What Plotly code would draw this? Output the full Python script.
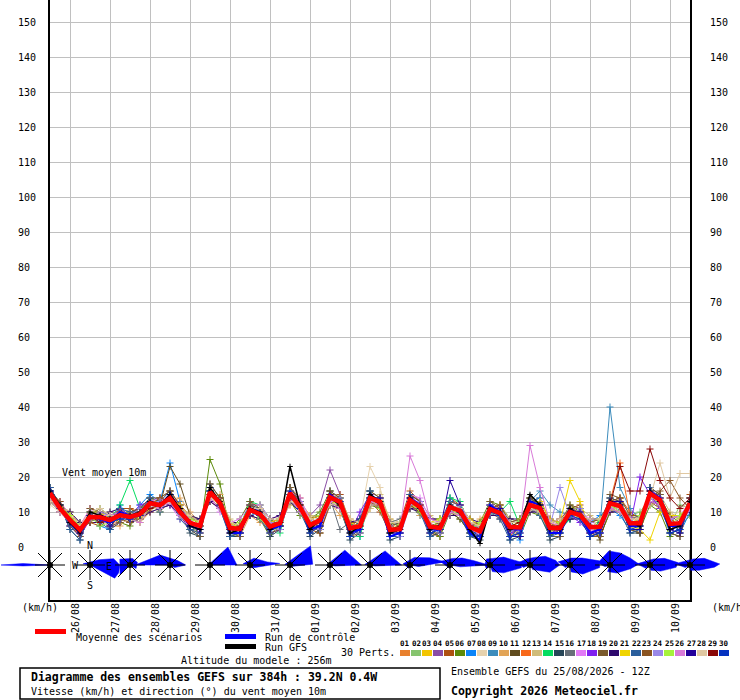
import numpy as np
import plotly.graph_objects as go

FIG_W, FIG_H = 740, 700

# ---------------- data ----------------
# 6-hourly steps, hours since run 25/08/2026 12Z
hours = list(range(0, 385, 6))
midnight_hours = [12 + 24 * k for k in range(16)]
date_labels = ["26/08", "27/08", "28/08", "29/08", "30/08", "31/08", "01/09", "02/09",
               "03/09", "04/09", "05/09", "06/09", "07/09", "08/09", "09/09", "10/09"]
speed_ticks = list(range(0, 151, 10))

mean_speed = [15.4, 11, 7.7, 4.9, 8.6, 8.5, 7.7, 9.1, 8.6, 9.4,
              12.5, 12, 14, 10, 6.9, 6, 15.7, 12.5, 5.4, 5.2,
              10.6, 9.4, 5.8, 6.8, 15.4, 11.4, 6.3, 7.7, 14.2, 12.9,
              5.4, 6, 14, 12.9, 4.9, 5.1, 13.4, 11.4, 5.8, 5.4,
              11.4, 10.3, 5.7, 4.5, 10.8, 9.7, 5.7, 5.6, 12, 11.1,
              5.4, 5.4, 10, 9.1, 5.7, 5.8, 12.5, 11.7, 6.8, 6.8,
              15.3, 13.4, 6.6, 6.8, 12.5]

control_run = [16, 11, 7, 4, 9, 8, 7, 10, 9, 9, 13, 12, 15, 10, 6, 5, 16, 13, 4, 4, 11, 10, 5, 6,
               16, 12, 5, 6, 15, 13, 4, 5, 15, 13, 3, 4, 14, 12, 5, 5, 12, 10, 4, 2, 12, 10, 5, 5,
               13, 12, 4, 4, 11, 9, 4, 5, 13, 12, 6, 6, 16, 14, 6, 6, 13]
gfs_run = [16, 12, 7, 4, 10, 9, 8, 9, 9, 10, 13, 12, 15, 11, 6, 5, 17, 13, 4, 5, 11, 10, 5, 7,
           23, 12, 5, 8, 14, 12, 4, 6, 15, 13, 4, 5, 14, 11, 5, 6, 12, 10, 5, 1, 11, 10, 5, 6,
           15, 12, 5, 5, 11, 9, 6, 6, 13, 12, 7, 6, 16, 13, 5, 6, 13]

m01 = [16, 12, 7, 3, 10, 9, 6, 8, 11, 10, 13, 12, 15, 9, 5, 4, 17, 13, 4, 6, 12, 10, 5, 8, 16, 12, 4, 9, 15, 14, 3, 5, 15, 12, 4, 6, 14, 12, 7, 4, 10, 11, 4, 3, 12, 9, 3, 7, 13, 10, 6, 7, 11, 8, 4, 5, 14, 13, 8, 6, 16, 14, 9, 5, 13]
m02 = [14, 10, 8, 5, 7, 9, 9, 10, 8, 8, 12, 13, 13, 11, 8, 7, 15, 12, 6, 4, 10, 9, 7, 6, 14, 11, 7, 7, 13, 13, 6, 8, 13, 14, 5, 4, 12, 10, 6, 6, 12, 11, 7, 5, 9, 10, 6, 5, 11, 10, 5, 4, 10, 9, 7, 8, 12, 11, 9, 10, 14, 12, 6, 12, 11]
m03 = [13, 11, 9, 6, 8, 7, 8, 11, 9, 9, 14, 12, 13, 10, 7, 5, 16, 11, 5, 5, 11, 10, 6, 5, 17, 12, 5, 7, 14, 12, 6, 6, 13, 13, 6, 5, 13, 11, 5, 7, 12, 10, 5, 4, 10, 11, 5, 8, 11, 10, 4, 5, 10, 9, 6, 6, 13, 12, 7, 8, 15, 13, 5, 7, 12]
m04 = [15, 12, 6, 4, 9, 7, 7, 9, 8, 10, 13, 11, 12, 10, 6, 7, 14, 14, 6, 5, 10, 9, 5, 6, 15, 11, 9, 12, 22, 15, 5, 6, 15, 13, 4, 4, 15, 12, 6, 7, 12, 10, 6, 6, 11, 9, 5, 6, 12, 11, 5, 5, 9, 8, 5, 6, 11, 10, 6, 6, 17, 14, 5, 7, 13]
m05 = [16, 13, 9, 5, 7, 6, 8, 11, 11, 9, 10, 14, 16, 12, 9, 7, 13, 11, 7, 4, 12, 12, 8, 6, 17, 14, 5, 4, 12, 15, 7, 5, 13, 10, 4, 7, 16, 13, 4, 3, 14, 12, 7, 6, 10, 12, 6, 3, 13, 14, 7, 5, 11, 12, 4, 3, 10, 14, 10, 8, 13, 11, 9, 4, 15]
m06 = [14, 11, 7, 5, 9, 11, 9, 7, 6, 10, 13, 10, 15, 11, 6, 4, 25, 18, 5, 8, 13, 8, 3, 7, 13, 9, 8, 10, 16, 11, 4, 8, 12, 11, 7, 6, 11, 13, 5, 3, 10, 8, 4, 7, 13, 12, 8, 3, 10, 9, 3, 7, 12, 10, 6, 3, 10, 13, 8, 5, 12, 10, 3, 6, 9]
m07 = [17, 12, 6, 4, 10, 6, 5, 12, 8, 12, 15, 13, 24, 13, 5, 3, 17, 11, 3, 6, 9, 10, 4, 9, 13, 12, 8, 5, 15, 12, 7, 3, 16, 11, 6, 7, 12, 9, 6, 4, 14, 11, 3, 5, 9, 11, 5, 2, 13, 14, 3, 5, 8, 10, 7, 9, 11, 9, 5, 8, 14, 15, 8, 4, 10]
m08 = [12, 10, 9, 7, 9, 9, 10, 9, 8, 8, 10, 11, 13, 9, 8, 7, 14, 12, 6, 6, 11, 10, 6, 7, 14, 11, 6, 8, 15, 13, 7, 8, 23, 17, 6, 6, 14, 12, 7, 7, 11, 10, 6, 6, 10, 9, 6, 5, 11, 10, 6, 6, 11, 9, 7, 7, 12, 11, 8, 8, 15, 14, 9, 10, 14]
m09 = [15, 11, 7, 4, 9, 8, 9, 9, 8, 10, 12, 12, 14, 10, 6, 6, 16, 12, 5, 6, 11, 9, 6, 7, 16, 12, 6, 8, 13, 12, 5, 6, 13, 12, 4, 5, 12, 11, 6, 6, 12, 11, 6, 6, 11, 10, 6, 5, 13, 16, 12, 10, 9, 10, 6, 6, 40, 17, 11, 8, 14, 12, 5, 6, 12]
m10 = [14, 12, 10, 6, 11, 10, 6, 6, 9, 7, 10, 14, 13, 14, 10, 7, 14, 15, 7, 3, 9, 7, 6, 9, 12, 13, 9, 5, 13, 9, 8, 5, 11, 14, 8, 4, 12, 9, 7, 5, 10, 12, 6, 8, 11, 8, 5, 3, 14, 11, 7, 3, 11, 9, 5, 7, 10, 12, 6, 4, 16, 11, 9, 8, 11]
m11 = [16, 12, 7, 4, 9, 8, 7, 9, 10, 9, 13, 12, 23, 18, 9, 6, 16, 12, 3, 4, 11, 11, 8, 6, 16, 13, 7, 4, 13, 11, 3, 6, 12, 13, 7, 3, 15, 13, 5, 8, 10, 8, 4, 6, 10, 9, 5, 8, 14, 12, 3, 5, 9, 10, 7, 2, 12, 12, 5, 4, 15, 14, 9, 7, 13]
m12 = [15, 10, 7, 3, 8, 9, 8, 9, 9, 11, 13, 12, 14, 10, 7, 6, 15, 12, 6, 4, 11, 9, 5, 7, 15, 11, 5, 7, 14, 12, 5, 7, 14, 13, 6, 5, 13, 12, 5, 5, 11, 10, 6, 5, 10, 10, 3, 6, 12, 11, 5, 6, 10, 9, 6, 5, 13, 24, 9, 7, 16, 14, 7, 6, 12]
m13 = [13, 12, 10, 7, 7, 9, 10, 9, 7, 10, 12, 10, 13, 12, 9, 8, 13, 14, 8, 6, 9, 11, 8, 7, 12, 13, 9, 8, 12, 14, 8, 7, 11, 15, 8, 7, 11, 13, 9, 7, 9, 12, 8, 6, 9, 12, 8, 7, 10, 13, 8, 6, 8, 11, 9, 7, 10, 14, 9, 8, 12, 15, 10, 8, 11]
m14 = [15, 11, 8, 5, 9, 9, 8, 12, 19, 11, 12, 12, 14, 10, 7, 6, 16, 12, 5, 6, 13, 12, 8, 4, 15, 12, 7, 8, 12, 14, 7, 3, 14, 13, 5, 6, 13, 12, 6, 5, 14, 13, 5, 5, 11, 10, 13, 6, 12, 11, 5, 5, 8, 11, 3, 8, 12, 11, 6, 6, 15, 13, 6, 7, 12]
m15 = [17, 12, 5, 2, 10, 10, 5, 7, 10, 11, 14, 13, 16, 10, 4, 3, 18, 14, 3, 3, 12, 11, 3, 5, 17, 13, 3, 5, 16, 14, 2, 4, 16, 14, 2, 3, 15, 13, 3, 4, 13, 12, 3, 2, 12, 11, 2, 3, 14, 12, 2, 3, 11, 10, 3, 4, 14, 13, 4, 4, 17, 15, 4, 3, 14]
m16 = [14, 10, 8, 6, 8, 7, 9, 10, 8, 8, 11, 12, 13, 11, 8, 8, 14, 11, 7, 7, 9, 8, 7, 8, 13, 10, 8, 9, 14, 5, 7, 8, 13, 11, 7, 8, 12, 10, 8, 8, 10, 9, 7, 7, 10, 8, 7, 8, 11, 9, 7, 8, 9, 8, 7, 8, 11, 10, 8, 9, 14, 12, 8, 9, 11]
m17 = [15, 13, 9, 6, 11, 8, 6, 7, 10, 9, 13, 14, 12, 8, 6, 7, 14, 10, 7, 8, 12, 12, 8, 9, 16, 14, 8, 6, 14, 11, 5, 6, 13, 11, 5, 6, 15, 14, 8, 7, 13, 12, 7, 4, 12, 11, 7, 4, 13, 10, 7, 8, 11, 10, 8, 5, 11, 10, 6, 9, 14, 12, 8, 9, 13]
m18 = [16, 12, 6, 3, 8, 9, 8, 11, 9, 12, 13, 11, 15, 12, 7, 4, 17, 11, 4, 4, 11, 8, 4, 5, 14, 10, 5, 9, 15, 13, 4, 10, 15, 12, 3, 4, 14, 10, 4, 5, 12, 9, 5, 6, 12, 9, 4, 5, 11, 10, 4, 5, 9, 7, 4, 6, 13, 11, 6, 20, 15, 11, 5, 6, 12]
m19 = [17, 12, 6, 3, 11, 10, 6, 7, 10, 11, 14, 14, 16, 12, 5, 3, 18, 14, 4, 3, 13, 11, 4, 5, 17, 13, 4, 6, 16, 14, 3, 4, 16, 14, 3, 3, 15, 13, 4, 4, 13, 12, 3, 3, 13, 11, 3, 4, 14, 12, 3, 3, 12, 11, 3, 3, 15, 14, 5, 4, 17, 15, 4, 3, 14]
m20 = [13, 10, 10, 7, 7, 7, 10, 11, 7, 8, 10, 11, 12, 9, 9, 8, 13, 11, 7, 7, 9, 8, 8, 9, 13, 10, 8, 9, 12, 11, 7, 8, 12, 12, 7, 7, 11, 10, 8, 8, 9, 9, 8, 7, 9, 9, 8, 8, 10, 10, 8, 7, 8, 8, 8, 8, 10, 10, 9, 9, 13, 12, 9, 9, 10]
m21 = [14, 11, 9, 5, 10, 10, 8, 9, 10, 8, 11, 12, 14, 12, 8, 7, 15, 13, 7, 5, 10, 11, 7, 8, 14, 12, 8, 9, 13, 12, 7, 6, 13, 12, 5, 6, 12, 11, 7, 8, 10, 9, 8, 6, 10, 9, 6, 7, 12, 13, 8, 7, 19, 13, 5, 5, 11, 10, 6, 5, 2, 10, 9, 9, 12]
m22 = [17, 12, 5, 2, 10, 7, 5, 11, 10, 10, 14, 10, 15, 8, 5, 4, 17, 11, 3, 4, 12, 8, 4, 8, 16, 10, 4, 9, 15, 11, 3, 8, 16, 11, 3, 3, 15, 10, 3, 7, 13, 9, 3, 3, 12, 8, 2, 7, 13, 9, 3, 4, 11, 8, 3, 7, 14, 10, 4, 5, 17, 12, 4, 5, 14]
m23 = [15, 13, 8, 6, 7, 10, 9, 8, 7, 9, 12, 14, 13, 11, 9, 7, 14, 14, 7, 6, 12, 10, 7, 6, 14, 12, 7, 6, 13, 11, 7, 7, 13, 11, 6, 7, 12, 10, 6, 7, 10, 11, 6, 7, 11, 12, 7, 8, 11, 12, 7, 8, 11, 10, 7, 8, 13, 14, 9, 9, 14, 16, 19, 14, 11]
m24 = [16, 10, 7, 4, 8, 10, 9, 8, 9, 11, 11, 13, 13, 11, 8, 5, 15, 13, 6, 4, 10, 11, 7, 5, 14, 13, 7, 5, 13, 14, 6, 4, 13, 14, 6, 3, 12, 13, 7, 4, 10, 12, 7, 3, 10, 11, 7, 4, 11, 12, 6, 17, 9, 11, 7, 4, 11, 13, 8, 6, 14, 14, 8, 5, 11]
m25 = [14, 12, 9, 6, 9, 6, 7, 10, 8, 7, 12, 11, 14, 9, 8, 7, 16, 11, 5, 7, 11, 8, 5, 8, 15, 10, 5, 9, 14, 11, 4, 7, 14, 11, 4, 7, 13, 10, 5, 8, 11, 9, 5, 7, 11, 9, 5, 8, 12, 10, 4, 7, 10, 8, 5, 8, 12, 10, 6, 9, 15, 12, 6, 9, 12]
m26 = [14, 10, 7, 4, 9, 9, 9, 10, 8, 7, 12, 11, 13, 9, 6, 6, 14, 11, 5, 6, 10, 9, 5, 7, 14, 10, 6, 8, 13, 11, 5, 6, 13, 12, 5, 5, 26, 19, 8, 7, 10, 9, 5, 4, 10, 9, 5, 5, 29, 17, 7, 6, 9, 8, 5, 4, 11, 10, 6, 6, 13, 12, 6, 6, 11]
m27 = [16, 12, 7, 4, 9, 9, 6, 9, 8, 10, 13, 12, 15, 11, 6, 5, 16, 13, 5, 4, 11, 10, 5, 6, 15, 12, 5, 6, 14, 13, 4, 5, 14, 14, 4, 4, 14, 12, 5, 5, 19, 12, 5, 3, 11, 11, 3, 3, 13, 12, 4, 4, 10, 10, 4, 4, 13, 13, 5, 5, 16, 14, 5, 4, 13]
m28 = [13, 10, 7, 6, 10, 11, 9, 9, 9, 10, 13, 12, 13, 11, 9, 7, 14, 13, 7, 6, 11, 11, 8, 8, 13, 12, 8, 8, 12, 13, 8, 7, 12, 12, 7, 7, 13, 12, 7, 7, 12, 11, 7, 6, 10, 9, 7, 7, 11, 10, 7, 8, 10, 9, 8, 8, 12, 11, 8, 8, 14, 24, 14, 21, 21]
m29 = [15, 11, 7, 5, 9, 7, 8, 10, 9, 9, 11, 12, 14, 11, 7, 6, 15, 12, 5, 6, 11, 9, 5, 7, 14, 12, 6, 7, 15, 12, 5, 6, 14, 12, 5, 6, 13, 12, 6, 6, 11, 10, 6, 5, 11, 9, 6, 7, 12, 11, 6, 6, 10, 9, 6, 5, 12, 23, 16, 16, 28, 19, 14, 11, 14]
m30 = [16, 11, 7, 5, 9, 8, 7, 8, 8, 9, 13, 12, 15, 10, 6, 5, 16, 12, 4, 4, 10, 9, 5, 6, 15, 11, 4, 6, 14, 13, 3, 5, 14, 13, 3, 4, 13, 11, 4, 5, 11, 10, 4, 3, 10, 9, 3, 4, 12, 11, 4, 4, 9, 8, 3, 4, 12, 12, 5, 6, 15, 13, 4, 5, 12]

members = [m01, m02, m03, m04, m05, m06, m07, m08, m09, m10,
           m11, m12, m13, m14, m15, m16, m17, m18, m19, m20,
           m21, m22, m23, m24, m25, m26, m27, m28, m29, m30]
member_colors = ["#e8802e", "#86c46e", "#f2c500", "#8a4da5", "#ae5010", "#5c8a0a",
                 "#0a84f8", "#e6d2ae", "#3c8cbc", "#e2a456", "#604c1e", "#f8681a",
                 "#d0bc7a", "#04dc60", "#264658", "#676f78", "#e27af6", "#8020f0",
                 "#7a5a2c", "#2e086e", "#f0d400", "#2a5e9c", "#8a5422", "#9a88e8",
                 "#a6f23c", "#d87ad8", "#22009a", "#e0c8a2", "#8a0808", "#0432c0"]

# wind roses every 24 h (12Z): outline bearings (deg, 0 = up/N) and speeds (km/h)
star_hours = hours[::4]
rose_bearing = [
    [268, 270, 273],
    [280, 60, 75, 90, 105, 118],
    [225, 300, 20, 70, 120],
    [270, 315, 0, 60, 90, 120],
    [270, 45, 90],
    [280, 30, 80, 87, 95, 150],
    [275, 47, 88, 110],
    [270, 45, 90, 100],
    [275, 47, 90, 100],
    [200, 280, 300, 30, 70, 85, 100],
    [180, 290, 20, 60, 80, 90, 100],
    [220, 270, 330, 20, 60, 85, 95, 120, 160],
    [250, 280, 330, 30, 60, 80, 90, 110, 150],
    [240, 285, 10, 60, 82, 95, 125, 170],
    [250, 280, 355, 40, 70, 88, 100, 140, 200],
    [230, 275, 320, 30, 65, 85, 95, 120, 170],
    [240, 275, 330, 30, 65, 88, 95, 120, 180],
]
rose_speed = [
    [15.5, 28, 15.5],
    [4, 6, 14, 17, 17, 16],
    [8, 6.7, 4, 4.5, 4],
    [20, 8, 4, 5, 9, 3],
    [1, 14.5, 15.4],
    [4, 4.5, 10, 17, 8, 2],
    [3, 16, 13, 2],
    [2, 12, 18, 3],
    [3, 11.8, 18, 3],
    [2, 4, 3, 5, 12, 20, 5],
    [2, 6, 4, 8, 14, 22, 6],
    [3, 3, 4, 4, 9, 18, 18, 9, 4],
    [4, 7, 4, 5, 10, 15, 17, 12, 3],
    [3, 7, 4, 8, 17, 17, 9, 4],
    [3, 7, 8, 9, 12, 16.5, 12, 6, 4],
    [3, 7.5, 3, 4, 9, 16, 15, 7, 3],
    [3, 8.5, 3, 4, 9, 17, 14, 6, 3],
]

for m in members + [mean_speed, control_run, gfs_run]:
    assert len(m) == len(hours), len(m)

# ---------------- geometry (pixels) ----------------
PLOT_L, PLOT_R = 50, 690
ZERO_Y, PLOT_BOT = 547, 600
PX_PER_KMH_Y = 3.5
Y_TOP = ZERO_Y / PX_PER_KMH_Y
Y_BOT = -(PLOT_BOT - ZERO_Y) / PX_PER_KMH_Y
H_PER_PX = 384 / (PLOT_R - PLOT_L)
ROSE_PX_PER_KMH = 1.75
ROSE_CY = 565
SPOKE = 15
SPOKE_D = 12


def px(x):
    return x / FIG_W


def py(y):
    return 1 - y / FIG_H


MONO = "DejaVu Sans Mono"
axis_font = dict(family=MONO, size=10, color="black")

fig = go.Figure()

# ensemble members
for vals, col in zip(members, member_colors):
    fig.add_trace(go.Scatter(
        x=hours, y=vals, mode="lines+markers", xaxis="x", yaxis="y",
        line=dict(color=col, width=1),
        marker=dict(symbol="cross-thin", size=5, line=dict(color=col, width=1)),
        hoverinfo="skip"))

# GFS run (black)
fig.add_trace(go.Scatter(
    x=hours, y=gfs_run, mode="lines+markers", xaxis="x", yaxis="y2",
    line=dict(color="black", width=1.5),
    marker=dict(symbol="cross-thin", size=4, line=dict(color="black", width=1)),
    hoverinfo="skip"))
# control run (blue)
fig.add_trace(go.Scatter(
    x=hours, y=control_run, mode="lines", xaxis="x", yaxis="y",
    line=dict(color="#0000ff", width=2), hoverinfo="skip"))
# ensemble mean (red)
fig.add_trace(go.Scatter(
    x=hours, y=mean_speed, mode="lines", xaxis="x3", yaxis="y",
    line=dict(color="#ff0000", width=4.5), hoverinfo="skip"))

# wind direction roses
poly_x, poly_y = [], []
for h, bears, spds in zip(star_hours, rose_bearing, rose_speed):
    poly_x.append(h)
    poly_y.append(0)
    for b, s in zip(bears, spds):
        L = s * ROSE_PX_PER_KMH
        poly_x.append(h + L * np.sin(np.radians(b)) * H_PER_PX)
        poly_y.append(L * np.cos(np.radians(b)))
    poly_x.append(h)
    poly_y.append(0)
    poly_x.append(None)
    poly_y.append(None)
fig.add_trace(go.Scatter(
    x=poly_x, y=poly_y, mode="lines", fill="toself", fillcolor="#0000ff",
    line=dict(color="#0000ff", width=0.5), xaxis="x4", yaxis="y4", hoverinfo="skip"))

spoke_x, spoke_y = [], []
for h in star_hours:
    for dxp, dyp in [(0, SPOKE), (SPOKE, 0), (SPOKE_D, SPOKE_D), (SPOKE_D, -SPOKE_D)]:
        spoke_x += [h - dxp * H_PER_PX, h + dxp * H_PER_PX, None]
        spoke_y += [-dyp, dyp, None]
fig.add_trace(go.Scatter(
    x=spoke_x, y=spoke_y, mode="lines", line=dict(color="black", width=1),
    xaxis="x4", yaxis="y4", hoverinfo="skip"))
fig.add_trace(go.Scatter(
    x=star_hours, y=[0] * len(star_hours), mode="markers",
    marker=dict(color="black", size=6), xaxis="x4", yaxis="y4", hoverinfo="skip"))

# compass letters around the second rose
c_h = star_hours[1]
fig.add_trace(go.Scatter(
    x=[c_h, c_h, c_h - 15 * H_PER_PX, c_h + 19 * H_PER_PX],
    y=[19, -21, -1, -2], mode="text", text=["N", "S", "W", "E"],
    textfont=dict(family=MONO, size=10, color="black"), cliponaxis=False,
    xaxis="x4", yaxis="y4", hoverinfo="skip"))

annotations = []


def ann(text, x, y, size=10, xanchor="left", bold=False, color="black"):
    annotations.append(dict(
        text=("<b>%s</b>" % text) if bold else text, x=px(x), y=py(y),
        xref="paper", yref="paper", xanchor=xanchor, yanchor="middle",
        showarrow=False, font=dict(family=MONO, size=size, color=color)))


annotations.append(dict(text="Vent moyen 10m", x=6, y=21.4, xref="x", yref="y",
                        xanchor="left", yanchor="middle", showarrow=False,
                        font=dict(family=MONO, size=10, color="black")))
ann("(km/h)", 20, 607)
ann("(km/h)", 710, 607)
ann("Moyenne des scénarios", 74, 637)
ann("Run de contrôle", 263, 637)
ann("Run GFS", 263, 647)
ann("30 Perts.", 339, 652)
ann("Altitude du modele : 256m", 179, 660)
ann("Diagramme des ensembles GEFS sur 384h : 39.2N 0.4W", 29, 677, size=11.5, bold=True)
ann("Vitesse (km/h) et direction (°) du vent moyen 10m", 29, 691)
ann("Ensemble GEFS du 25/08/2026 - 12Z", 449, 671)
ann("Copyright 2026 Meteociel.fr", 449, 691, size=11.5, bold=True)

shapes = []


def rect(x0, y0, x1, y1, fill=None, line_col=None, lw=0):
    shapes.append(dict(type="rect", xref="paper", yref="paper",
                       x0=px(x0), x1=px(x1), y0=py(y1), y1=py(y0),
                       fillcolor=fill if fill else "rgba(0,0,0,0)",
                       line=dict(color=line_col if line_col else "rgba(0,0,0,0)", width=lw)))


rect(35, 629, 66, 634, fill="#ff0000")
rect(225, 634, 256, 639, fill="#0000ff")
rect(225, 644, 256, 649, fill="#000000")
rect(20, 668, 440, 699, line_col="black", lw=1.5)
for k, col in enumerate(member_colors):
    rect(400 + 11 * k, 650, 410 + 11 * k, 656, fill=col)
    annotations.append(dict(text="<b>%02d</b>" % (k + 1), x=px(405 + 11 * k), y=py(643),
                            xref="paper", yref="paper", xanchor="center", yanchor="middle",
                            showarrow=False, font=dict(family=MONO, size=7.5, color="black")))

left_ticktext = [f"{v:<3}".replace(" ", "\u00a0") for v in speed_ticks]

fig.update_layout(
    width=FIG_W, height=FIG_H,
    margin=dict(l=0, r=0, t=0, b=0, pad=0),
    paper_bgcolor="white", plot_bgcolor="rgba(0,0,0,0)",
    showlegend=False,
    xaxis=dict(domain=[px(PLOT_L), px(PLOT_R)], range=[0, 384], anchor="y",
               tickmode="array", tickvals=midnight_hours, showticklabels=False, ticks="",
               showgrid=True, gridcolor="#c0c0c0", gridwidth=1, zeroline=False,
               showline=True, linecolor="black", linewidth=2, automargin=False),
    xaxis3=dict(overlaying="x", anchor="y", side="bottom", range=[0, 384],
                tickmode="array", tickvals=[h + 3.6 for h in midnight_hours],
                ticktext=date_labels, tickangle=-90, ticks="", showgrid=False,
                zeroline=False, showline=False, tickfont=axis_font, automargin=False),
    yaxis=dict(domain=[py(PLOT_BOT), 1], range=[Y_BOT, Y_TOP], anchor="x",
               tickmode="array", tickvals=speed_ticks, ticktext=left_ticktext, ticks="",
               showgrid=True, gridcolor="#c0c0c0", gridwidth=1, zeroline=False,
               showline=True, linecolor="black", linewidth=2, tickfont=axis_font,
               ticklabelstandoff=10, automargin=False),
    yaxis2=dict(overlaying="y", side="right", anchor="x", range=[Y_BOT, Y_TOP],
                tickmode="array", tickvals=speed_ticks, ticktext=[str(v) for v in speed_ticks],
                ticks="", showgrid=False, zeroline=False, showline=True, linecolor="black",
                linewidth=2, tickfont=axis_font, ticklabelstandoff=16, automargin=False),
    xaxis4=dict(domain=[0, 1], range=[(0 - PLOT_L) * H_PER_PX, (FIG_W - PLOT_L) * H_PER_PX],
                anchor="y4", visible=False),
    yaxis4=dict(domain=[py(PLOT_BOT), py(545)], range=[-(PLOT_BOT - ROSE_CY), ROSE_CY - 545],
                anchor="x4", visible=False),
    annotations=annotations,
    shapes=shapes,
)

fig.write_html("out.html", config={"displayModeBar": False},
               post_script="document.body.style.margin='0';document.body.style.overflow='hidden';")
